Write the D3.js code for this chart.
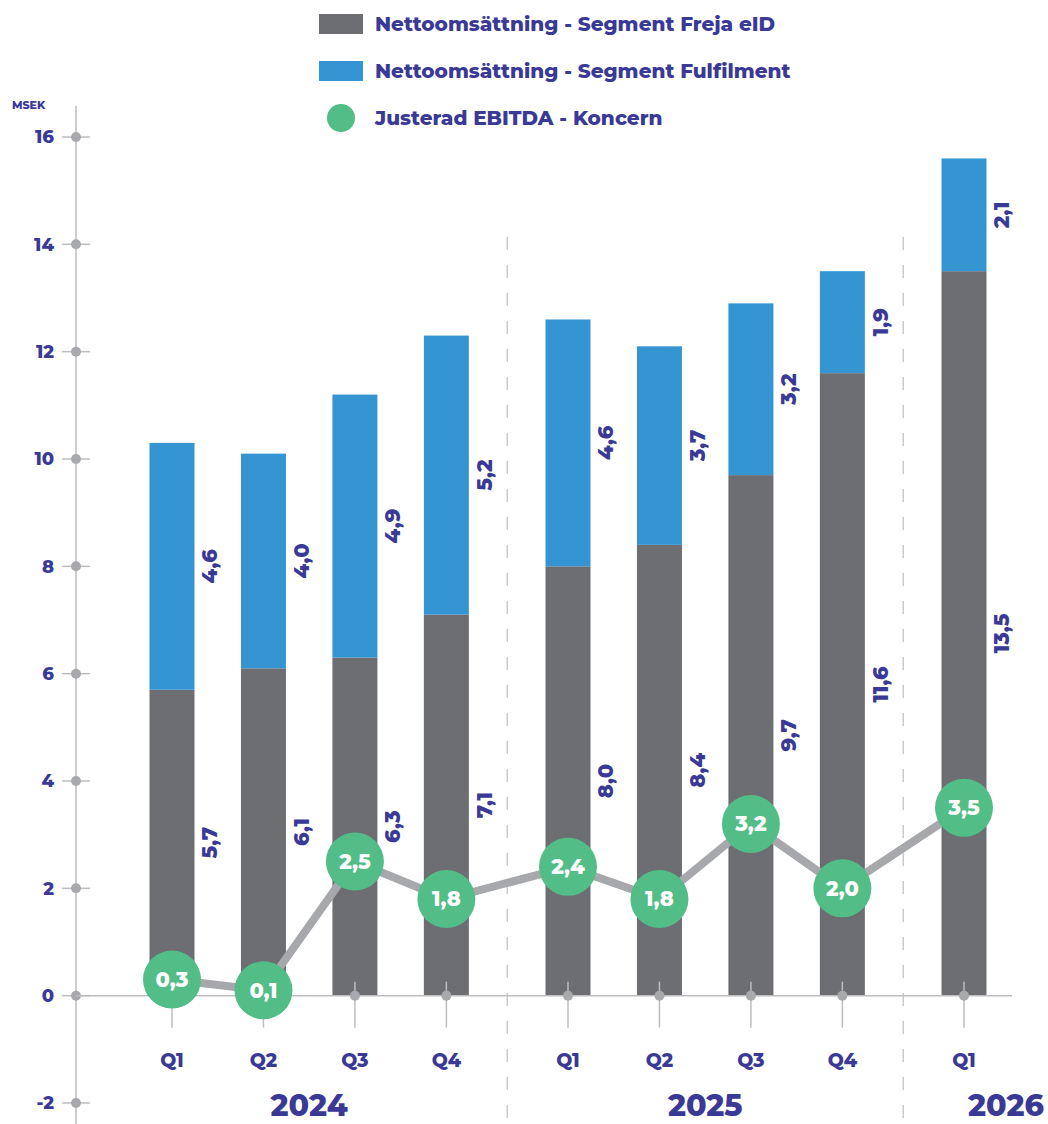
<!DOCTYPE html>
<html>
<head>
<meta charset="utf-8">
<script src="https://cdn.jsdelivr.net/npm/d3@7"></script>
<style>
  body { margin: 0; background: #fff; }
  text { font-family: Montserrat, "Open Sans", sans-serif; font-weight: 800; }
</style>
</head>
<body>
<script>
// data
const quarters = ['Q1', 'Q2', 'Q3', 'Q4', 'Q1', 'Q2', 'Q3', 'Q4', 'Q1']
const years = ['2024', '2024', '2024', '2024', '2025', '2025', '2025', '2025', '2026']
const yearLabels = ['2024', '2025', '2026']
const freja = [5.7, 6.1, 6.3, 7.1, 8.0, 8.4, 9.7, 11.6, 13.5]
const fulfilment = [4.6, 4.0, 4.9, 5.2, 4.6, 3.7, 3.2, 1.9, 2.1]
const ebitda = [0.3, 0.1, 2.5, 1.8, 2.4, 1.8, 3.2, 2.0, 3.5]
const yTicks = [-2, 0, 2, 4, 6, 8, 10, 12, 14, 16]
const legendItems = [
    { label: 'Nettoomsättning - Segment Freja eID', type: 'rect', color: '#6d6e72' },
    { label: 'Nettoomsättning - Segment Fulfilment', type: 'rect', color: '#3595d2' },
    { label: 'Justerad EBITDA - Koncern', type: 'circle', color: '#52bd87' },
]

const W = 1048, H = 1124
const navy = '#3a3a96'
const axisGrey = '#bdbdbf'
const dotGrey = '#a8a9ac'
const yearGap = 0.33

const svg = d3.select('body').append('svg')
    .attr('width', W)
    .attr('height', H)

// slot position: quarter index plus a gap between years
const yearIdx = years.map(yr => yearLabels.indexOf(yr))
const slot = quarters.map((q, i) => i + yearIdx[i] * yearGap)

const x = d3.scaleLinear()
    .domain([0, d3.max(slot)])
    .range([172, 964])

const y = d3.scaleLinear()
    .domain([-2, 16])
    .range([1103, 137])

const axisX = 76
const barW = 45

// y axis
svg.append('line')
    .attr('x1', axisX).attr('x2', axisX)
    .attr('y1', 106).attr('y2', H)
    .attr('stroke', axisGrey).attr('stroke-width', 1.5)

svg.append('text')
    .attr('x', 12).attr('y', 109)
    .attr('font-size', 11)
    .attr('fill', navy)
    .text('MSEK')

const yt = svg.append('g').selectAll('g')
    .data(yTicks)
    .join('g')
    .attr('transform', d => `translate(0,${y(d)})`)

yt.append('line')
    .attr('x1', axisX - 14).attr('x2', axisX + 14)
    .attr('stroke', axisGrey).attr('stroke-width', 1.5)
yt.append('circle')
    .attr('cx', axisX).attr('r', 5)
    .attr('fill', dotGrey)
yt.append('text')
    .attr('x', 54).attr('dy', '0.35em')
    .attr('text-anchor', 'end')
    .attr('font-size', 18)
    .attr('fill', navy)
    .text(d => d)

// year separators
const seps = [(slot[3] + slot[4]) / 2, (slot[7] + slot[8]) / 2]
svg.append('g').selectAll('line')
    .data(seps)
    .join('line')
    .attr('x1', d => x(d)).attr('x2', d => x(d))
    .attr('y1', 237).attr('y2', H)
    .attr('stroke', axisGrey).attr('stroke-width', 1.2)
    .attr('stroke-dasharray', '13,15')

// bars
const bars = svg.append('g')
bars.selectAll('rect.freja')
    .data(freja)
    .join('rect')
    .attr('class', 'freja')
    .attr('x', (d, i) => x(slot[i]) - barW / 2)
    .attr('width', barW)
    .attr('y', d => y(d))
    .attr('height', d => y(0) - y(d))
    .attr('fill', '#6d6e72')

bars.selectAll('rect.ful')
    .data(fulfilment)
    .join('rect')
    .attr('class', 'ful')
    .attr('x', (d, i) => x(slot[i]) - barW / 2)
    .attr('width', barW)
    .attr('y', (d, i) => y(freja[i] + d))
    .attr('height', (d, i) => y(freja[i]) - y(freja[i] + d))
    .attr('fill', '#3595d2')

// zero line
svg.append('line')
    .attr('x1', axisX).attr('x2', 1012)
    .attr('y1', y(0)).attr('y2', y(0))
    .attr('stroke', axisGrey).attr('stroke-width', 1.5)

// x ticks
const xt = svg.append('g').selectAll('g')
    .data(quarters)
    .join('g')
    .attr('transform', (d, i) => `translate(${x(slot[i])},${y(0)})`)
xt.append('line')
    .attr('y1', -14).attr('y2', 32)
    .attr('stroke', axisGrey).attr('stroke-width', 1.5)
xt.append('circle')
    .attr('r', 5)
    .attr('fill', dotGrey)
xt.append('text')
    .attr('y', 71)
    .attr('text-anchor', 'middle')
    .attr('font-size', 19)
    .attr('fill', navy)
    .text(d => d)

// year labels
const yearPos = yearLabels.map(yr => {
    const s = slot.filter((v, i) => years[i] === yr)
    return (d3.min(s) + d3.max(s)) / 2
})
svg.append('g').selectAll('text')
    .data(yearLabels)
    .join('text')
    .attr('x', (d, i) => i === 2 ? x(yearPos[i]) + 42 : x(yearPos[i]))
    .attr('y', 1116)
    .attr('text-anchor', 'middle')
    .attr('font-size', 30)
    .attr('fill', navy)
    .text(d => d)

// value labels (rotated)
const fmt = v => v.toFixed(1).replace('.', ',')
const vl = svg.append('g')
vl.selectAll('text.fl')
    .data(freja)
    .join('text')
    .attr('transform', (d, i) => `translate(${x(slot[i]) + 38},${y(d / 2)}) rotate(-90)`)
    .attr('text-anchor', 'middle')
    .attr('dy', '0.35em')
    .attr('font-size', 21)
    .attr('fill', navy)
    .text(d => fmt(d))
vl.selectAll('text.ul')
    .data(fulfilment)
    .join('text')
    .attr('transform', (d, i) => `translate(${x(slot[i]) + 38},${y(freja[i] + d / 2)}) rotate(-90)`)
    .attr('text-anchor', 'middle')
    .attr('dy', '0.35em')
    .attr('font-size', 21)
    .attr('fill', navy)
    .text(d => fmt(d))

// EBITDA line + circles
const line = d3.line()
    .x((d, i) => x(slot[i]))
    .y(d => y(d))
svg.append('path')
    .datum(ebitda)
    .attr('d', line)
    .attr('fill', 'none')
    .attr('stroke', '#a7a8ab')
    .attr('stroke-width', 8)

const pts = svg.append('g').selectAll('g')
    .data(ebitda)
    .join('g')
    .attr('transform', (d, i) => `translate(${x(slot[i])},${y(d)})`)
pts.append('circle')
    .attr('r', 29)
    .attr('fill', '#52bd87')
pts.append('text')
    .attr('text-anchor', 'middle')
    .attr('dy', '0.35em')
    .attr('font-size', 21)
    .attr('fill', '#fff')
    .text(d => fmt(d))

// legend
const lg = svg.append('g').selectAll('g')
    .data(legendItems)
    .join('g')
    .attr('transform', (d, i) => `translate(319,${24 + i * 47})`)
lg.filter(d => d.type === 'rect').append('rect')
    .attr('y', -10).attr('width', 44).attr('height', 20)
    .attr('fill', d => d.color)
lg.filter(d => d.type === 'circle').append('circle')
    .attr('cx', 22).attr('r', 14)
    .attr('fill', d => d.color)
lg.append('text')
    .attr('x', 56).attr('dy', '0.35em')
    .attr('font-size', 20)
    .attr('fill', navy)
    .text(d => d.label)
</script>
</body>
</html>
